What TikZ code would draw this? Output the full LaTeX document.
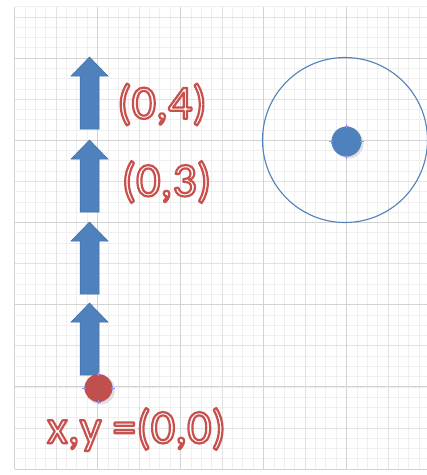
\documentclass[tikz,border=0pt]{standalone}
\usepackage{fontspec}
\setmainfont{Carlito}
\definecolor{gridfine}{HTML}{EFEFEF}
\definecolor{gridmid}{HTML}{E2E2E2}
\definecolor{gridmajor}{HTML}{D3D3D3}
\definecolor{ofblue}{HTML}{4F81BD}
\definecolor{ofblueedge}{HTML}{3F6DA5}
\definecolor{ofred}{HTML}{C0504D}
\definecolor{handle}{HTML}{9A8CF0}
\tikzset{
  finegrid/.style={draw=gridfine, line width=0.6pt},
  midgrid/.style={draw=gridmid, line width=0.7pt},
  majorgrid/.style={draw=gridmajor, line width=1pt},
  bluearrow/.style={fill=ofblue, draw=ofblueedge, line width=0.5pt},
  outlabel/.style={inner sep=0pt, font=\fontsize{48}{50}\selectfont},
  handlemark/.style={draw=handle, line width=0.6pt},
}
\newcommand{\outtext}[1]{{\color{white}\special{pdf:literal direct 0.784 0.314 0.302 RG 2 Tr 2.2 w 1 j}#1\special{pdf:literal direct 0 Tr}}}
\begin{document}
\begin{tikzpicture}[x=1pt,y=-1pt]
\useasboundingbox (0,0) rectangle (427,475);
\fill[white] (0,0) rectangle (427,475);
% grid
\foreach \k in {0,...,39}{
  \pgfmathsetmacro{\xx}{14.5+\k*10.375}
  \draw[finegrid] (\xx,7) -- (\xx,469);
}
\foreach \k in {0,...,45}{
  \pgfmathsetmacro{\yy}{469-\k*10.275}
  \draw[finegrid] (14.5,\yy) -- (427,\yy);
}
\foreach \k in {0,...,9}{
  \pgfmathsetmacro{\xx}{14.5+\k*41.5}
  \draw[midgrid] (\xx,7) -- (\xx,469);
}
\foreach \k in {0,...,11}{
  \pgfmathsetmacro{\yy}{469-\k*41.1}
  \draw[midgrid] (14.5,\yy) -- (427,\yy);
}
\foreach \k in {0,...,4}{
  \pgfmathsetmacro{\xx}{14.5+\k*83}
  \draw[majorgrid] (\xx,7) -- (\xx,469);
}
\foreach \k in {0,...,5}{
  \pgfmathsetmacro{\yy}{469-\k*82.2}
  \draw[majorgrid] (14.5,\yy) -- (427,\yy);
}
% arrows
\foreach \t/\n in {57/a4,140/a3,222/a2,303/a1}{
  \draw[bluearrow] (89.5,\t) -- (108,\t+19) -- (99,\t+19) -- (99,\t+72)
     -- (80,\t+72) -- (80,\t+19) -- (71,\t+19) -- cycle;
  \coordinate (\n) at (89.5,\t);
}
% red dot (origin)
\fill[black!12] (100.5,390) circle (14.5);
\node[circle, fill=ofred, minimum size=28pt, inner sep=0pt] (origin) at (98.5,388) {};
\foreach \p in {north,south,east,west}{
  \draw[handlemark] ([xshift=-2pt]origin.\p) -- ([xshift=2pt]origin.\p)
                    ([yshift=-2pt]origin.\p) -- ([yshift=2pt]origin.\p);
}
% big circle and blue dot
\node[circle, draw=ofblue, line width=1.1pt, minimum size=165pt, inner sep=0pt] (ring) at (345,140) {};
\fill[black!12] (348.5,143.5) circle (15);
\node[circle, fill=ofblue, minimum size=30pt, inner sep=0pt] (center) at (346.5,141.5) {};
\foreach \p in {north,south,east,west}{
  \draw[handlemark] ([xshift=-2pt]center.\p) -- ([xshift=2pt]center.\p)
                    ([yshift=-2pt]center.\p) -- ([yshift=2pt]center.\p);
}
% labels
\node[outlabel] (l4) at (162,104.5) {\outtext{(0,4)}};
\node[outlabel] (l3) at (166.5,182) {\outtext{(0,3)}};
\node[outlabel] (l0) at (136.5,429.5) {\outtext{x,y =(0,0)}};
\end{tikzpicture}
\end{document}
